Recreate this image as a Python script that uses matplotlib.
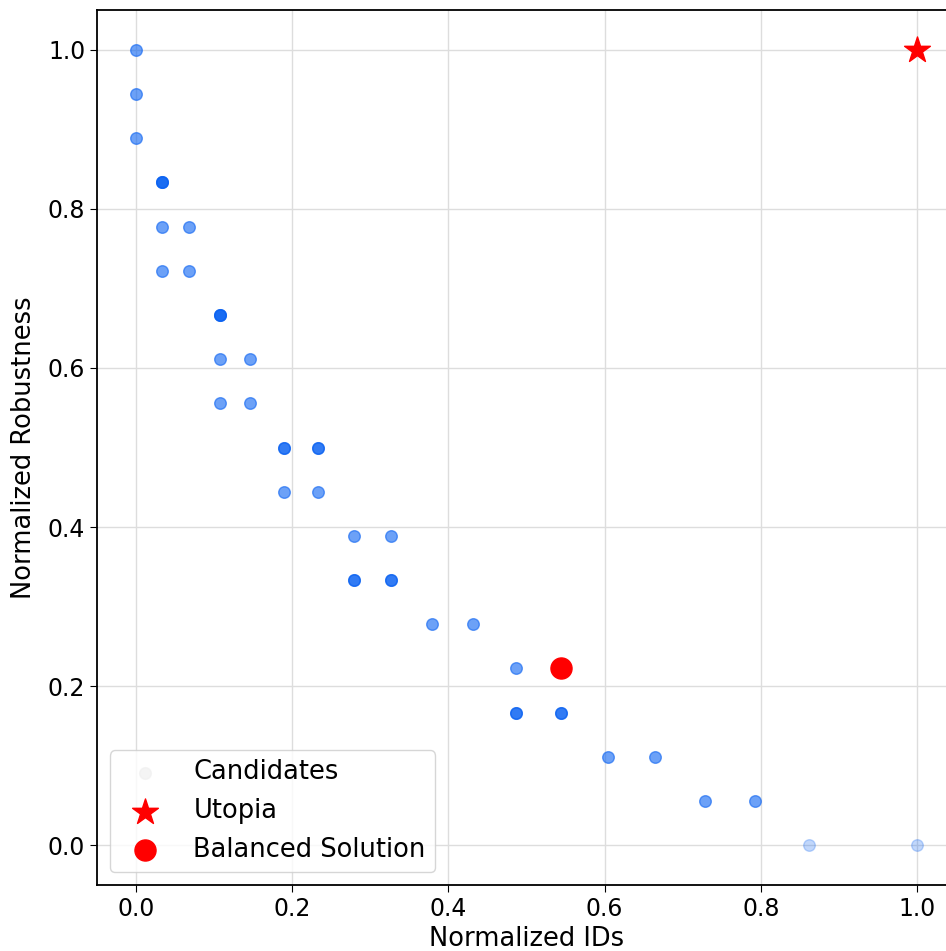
import matplotlib
matplotlib.use("Agg")
import matplotlib.pyplot as plt
import numpy as np

# Candidate points (normalized IDs, normalized robustness); duplicates repeated
cand_x = [0.0, 0.0, 0.0,
          0.0334, 0.0334, 0.0334,
          0.0334, 0.068,
          0.0334, 0.068,
          0.108, 0.108, 0.108,
          0.108, 0.1465,
          0.108, 0.1465,
          0.189, 0.189, 0.2326, 0.2326,
          0.189, 0.2326,
          0.279, 0.326,
          0.279, 0.279, 0.326, 0.326,
          0.379, 0.431,
          0.487,
          0.487, 0.487, 0.544, 0.544,
          0.604, 0.665,
          0.729, 0.793]
cand_y = [1.0, 0.9444, 0.8889,
          0.8333, 0.8333, 0.8333,
          0.7778, 0.7778,
          0.7222, 0.7222,
          0.6667, 0.6667, 0.6667,
          0.6111, 0.6111,
          0.5556, 0.5556,
          0.5, 0.5, 0.5, 0.5,
          0.4444, 0.4444,
          0.3889, 0.3889,
          0.3333, 0.3333, 0.3333, 0.3333,
          0.2778, 0.2778,
          0.2222,
          0.1667, 0.1667, 0.1667, 0.1667,
          0.1111, 0.1111,
          0.0556, 0.0556]
# extreme candidates drawn lighter
edge_x = [0.862, 1.0]
edge_y = [0.0, 0.0]

utopia_x = [1.0]
utopia_y = [1.0]
balanced_x = [0.544]
balanced_y = [0.2222]

fig = plt.figure(figsize=(9.46, 9.51), dpi=100)
ax = fig.add_axes([97/946, 66/951, (956-97)/946, (885-10)/951])

blue = '#0a62f2'
ax.scatter(cand_x, cand_y, s=70, color=blue, alpha=0.6, zorder=2)
ax.scatter(edge_x, edge_y, s=70, color=blue, alpha=0.25, zorder=2)
ax.scatter(utopia_x, utopia_y, s=380, marker='*', color='red', zorder=4)
ax.scatter(balanced_x, balanced_y, s=230, marker='o', color='red', zorder=4)

# legend proxies
h1 = ax.scatter([], [], s=70, color='#eeeeee', alpha=0.6, label='Candidates')
h2 = ax.scatter([], [], s=380, marker='*', color='red', label='Utopia')
h3 = ax.scatter([], [], s=230, marker='o', color='red', label='Balanced Solution')
ax.legend(handles=[h1, h2, h3], loc='lower left', fontsize=18.5,
          borderpad=0.35, labelspacing=0.5, handletextpad=0.9,
          borderaxespad=0.5)

ax.set_xlim(-0.05, 1.05)
ax.set_ylim(-0.05, 1.05)
ax.set_xticks([0.0, 0.2, 0.4, 0.6, 0.8, 1.0])
ax.set_yticks([0.0, 0.2, 0.4, 0.6, 0.8, 1.0])
ax.tick_params(labelsize=17, length=5)
ax.grid(True, color='#dddddd', linewidth=1.0, zorder=0)
ax.set_axisbelow(True)
ax.set_xlabel('Normalized IDs', fontsize=18.5, labelpad=4)
ax.set_ylabel('Normalized Robustness', fontsize=18.5, labelpad=8)
for sp in ax.spines.values():
    sp.set_linewidth(1.3)

fig.savefig('out.png', dpi=100)
